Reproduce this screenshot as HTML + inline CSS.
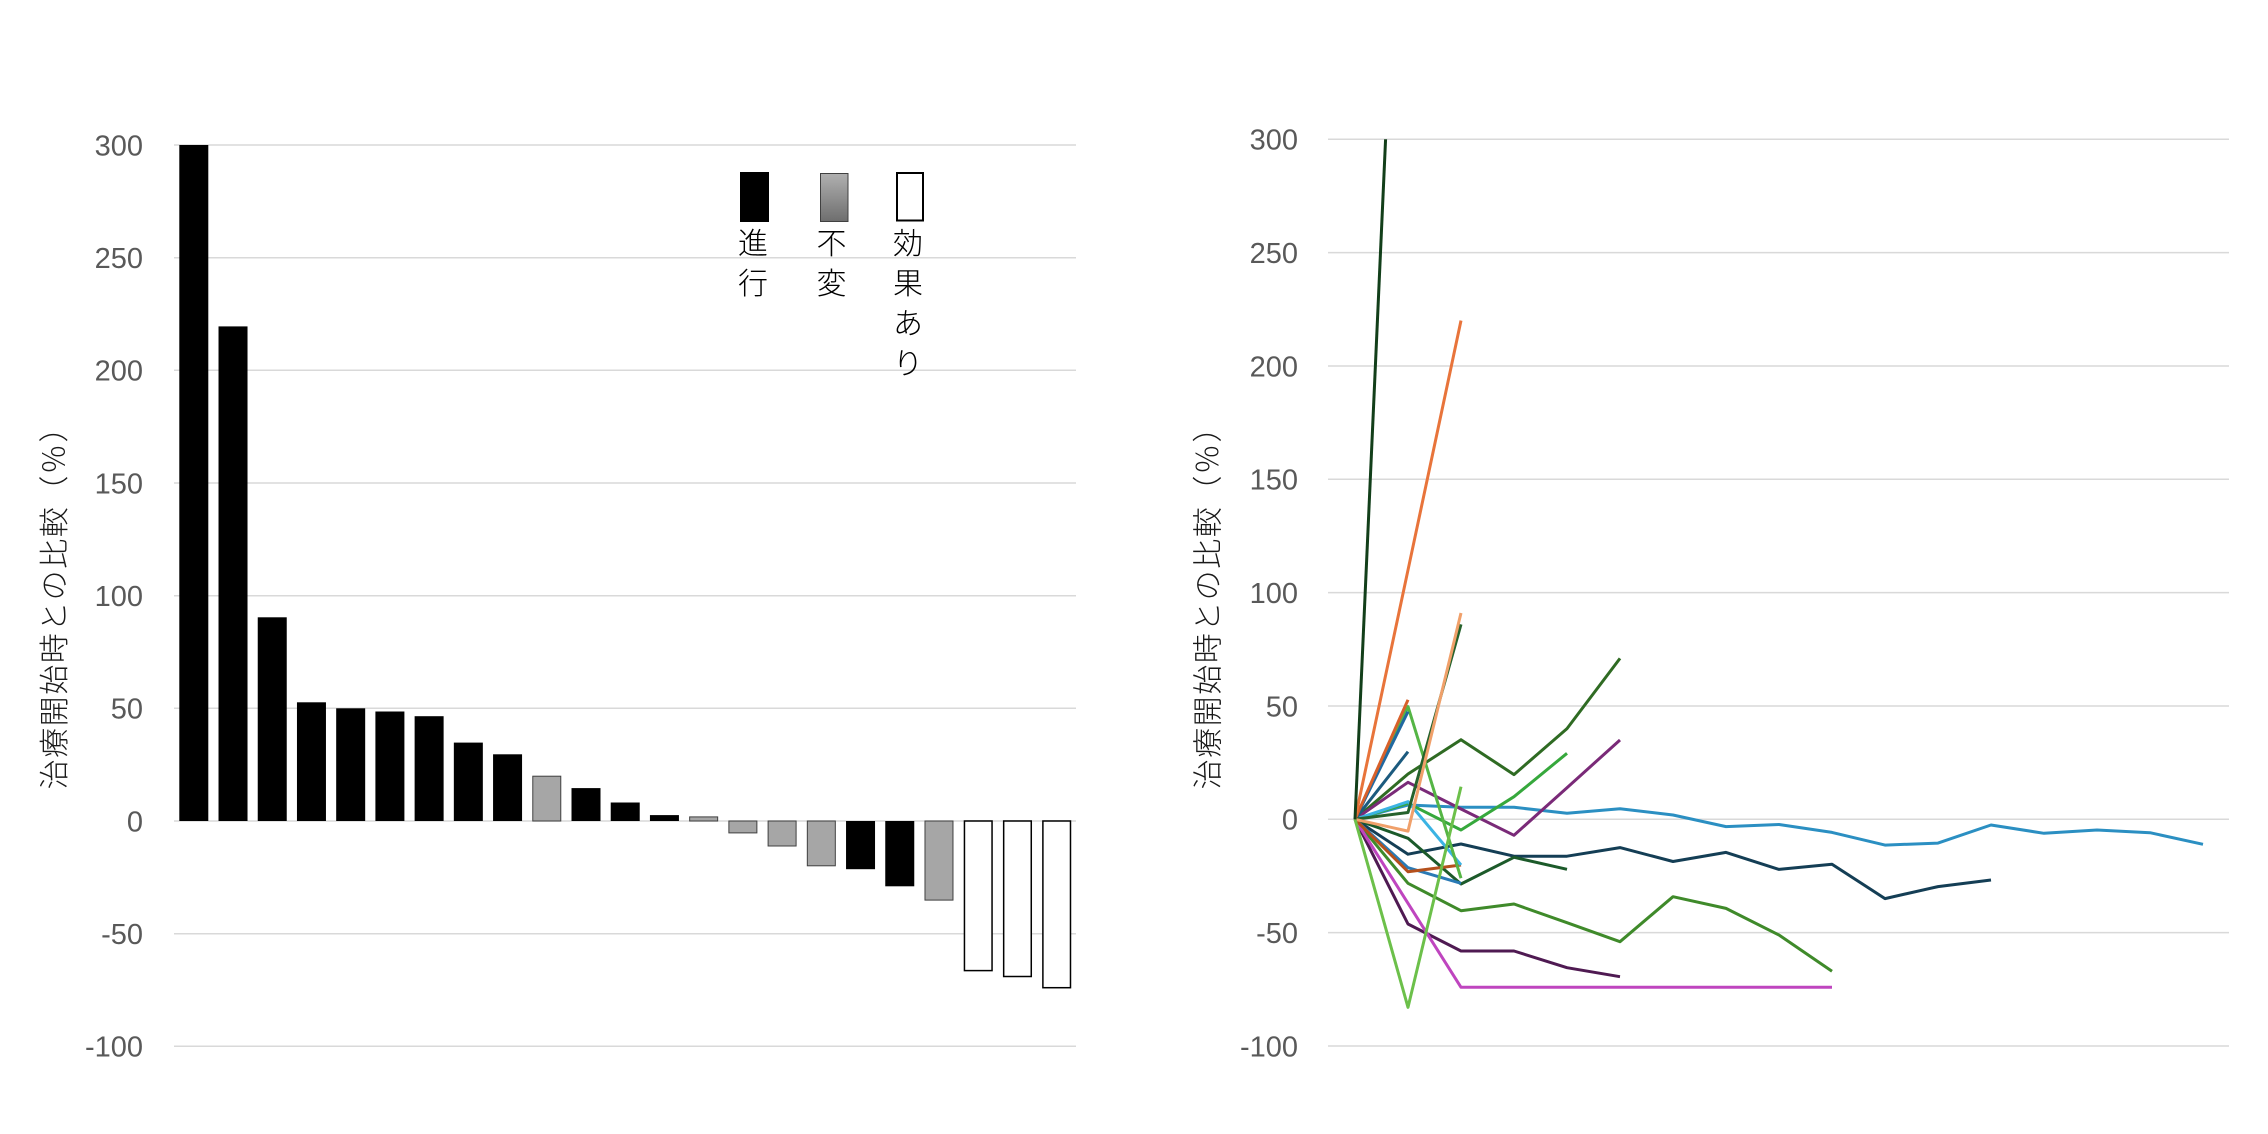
<!DOCTYPE html>
<html>
<head>
<meta charset="utf-8">
<style>
html,body{margin:0;padding:0;background:#fff;}
svg{display:block;}
.tick{font-family:"Liberation Sans",Arial,sans-serif;font-size:29px;fill:#595959;}
.jp{font-family:"Liberation Sans","Noto Sans CJK JP",sans-serif;font-weight:300;font-size:30px;fill:#1a1a1a;}
.grid{stroke:#d9d9d9;stroke-width:1.5;}
.ln{fill:none;stroke-width:3;stroke-linejoin:round;stroke-linecap:butt;}
</style>
</head>
<body>
<svg width="2268" height="1134" viewBox="0 0 2268 1134" xmlns="http://www.w3.org/2000/svg">
<defs>
<linearGradient id="gg" x1="0" y1="0" x2="0" y2="1">
<stop offset="0" stop-color="#b0b0b0"/>
<stop offset="1" stop-color="#6e6e6e"/>
</linearGradient>
<clipPath id="rc"><rect x="1328" y="139.3" width="902" height="910"/></clipPath>
</defs>

<!-- LEFT CHART -->
<g class="grid">
<line x1="174" x2="1076" y1="145" y2="145"/>
<line x1="174" x2="1076" y1="257.7" y2="257.7"/>
<line x1="174" x2="1076" y1="370.3" y2="370.3"/>
<line x1="174" x2="1076" y1="483" y2="483"/>
<line x1="174" x2="1076" y1="595.7" y2="595.7"/>
<line x1="174" x2="1076" y1="708.3" y2="708.3"/>
<line x1="174" x2="1076" y1="821" y2="821"/>
<line x1="174" x2="1076" y1="933.7" y2="933.7"/>
<line x1="174" x2="1076" y1="1046.3" y2="1046.3"/>
</g>
<g class="tick" text-anchor="end">
<text x="143" y="155.4">300</text>
<text x="143" y="268.1">250</text>
<text x="143" y="380.7">200</text>
<text x="143" y="493.4">150</text>
<text x="143" y="606.1">100</text>
<text x="143" y="718.7">50</text>
<text x="143" y="831.4">0</text>
<text x="143" y="944.1">-50</text>
<text x="143" y="1056.7">-100</text>
</g>
<text class="jp" transform="translate(65,601) rotate(-90)" text-anchor="middle" textLength="377" lengthAdjust="spacing">治療開始時との比較（％）</text>

<!-- bars -->
<g fill="#000">
<rect x="179.3" y="145" width="29" height="676"/>
<rect x="218.52" y="326.4" width="29" height="494.6"/>
<rect x="257.74" y="617.3" width="29" height="203.7"/>
<rect x="296.96" y="702.3" width="29" height="118.7"/>
<rect x="336.18" y="708.3" width="29" height="112.7"/>
<rect x="375.4" y="711.5" width="29" height="109.5"/>
<rect x="414.62" y="716.2" width="29" height="104.8"/>
<rect x="453.84" y="742.6" width="29" height="78.4"/>
<rect x="493.06" y="754.3" width="29" height="66.7"/>
<rect x="571.5" y="788.1" width="29" height="32.9"/>
<rect x="610.72" y="802.5" width="29" height="18.5"/>
<rect x="649.94" y="815.1" width="29" height="5.9"/>
<rect x="846.04" y="821" width="29" height="48.2"/>
<rect x="885.26" y="821" width="29" height="65.3"/>
</g>
<g fill="#a6a6a6" stroke="#404040" stroke-width="1">
<rect x="532.78" y="776.2" width="28" height="44.8"/>
<rect x="689.66" y="816.9" width="28" height="4.1"/>
<rect x="728.88" y="821" width="28" height="11.9"/>
<rect x="768.1" y="821" width="28" height="25"/>
<rect x="807.32" y="821" width="28" height="44.8"/>
<rect x="924.98" y="821" width="28" height="79.1"/>
</g>
<g fill="#fff" stroke="#000" stroke-width="1.5">
<rect x="964.45" y="821" width="27.6" height="149.6"/>
<rect x="1003.67" y="821" width="27.6" height="155.5"/>
<rect x="1042.89" y="821" width="27.6" height="166.7"/>
</g>

<!-- legend -->
<rect x="740" y="172" width="29" height="50" fill="#000"/>
<rect x="820.5" y="173.5" width="27.5" height="48" fill="url(#gg)" stroke="#404040" stroke-width="1"/>
<rect x="897" y="173" width="26" height="47.5" fill="#fff" stroke="#000" stroke-width="2"/>
<g class="jp" text-anchor="middle" style="fill:#000">
<text x="753" y="254">進</text>
<text x="753" y="294">行</text>
<text x="831.5" y="254">不</text>
<text x="831.5" y="294">変</text>
<text x="908" y="254">効</text>
<text x="908" y="294">果</text>
<text x="908" y="334">あ</text>
<text x="908" y="374">り</text>
</g>

<!-- RIGHT CHART -->
<g class="grid">
<line x1="1328" x2="2229" y1="139.3" y2="139.3"/>
<line x1="1328" x2="2229" y1="252.6" y2="252.6"/>
<line x1="1328" x2="2229" y1="366" y2="366"/>
<line x1="1328" x2="2229" y1="479.3" y2="479.3"/>
<line x1="1328" x2="2229" y1="592.6" y2="592.6"/>
<line x1="1328" x2="2229" y1="706" y2="706"/>
<line x1="1328" x2="2229" y1="819.3" y2="819.3"/>
<line x1="1328" x2="2229" y1="932.6" y2="932.6"/>
<line x1="1328" x2="2229" y1="1046" y2="1046"/>
</g>
<g class="tick" text-anchor="end">
<text x="1298" y="149.7">300</text>
<text x="1298" y="263">250</text>
<text x="1298" y="376.4">200</text>
<text x="1298" y="489.7">150</text>
<text x="1298" y="603">100</text>
<text x="1298" y="716.4">50</text>
<text x="1298" y="829.7">0</text>
<text x="1298" y="943">-50</text>
<text x="1298" y="1056.4">-100</text>
</g>
<text class="jp" transform="translate(1218.5,601) rotate(-90)" text-anchor="middle" textLength="377" lengthAdjust="spacing">治療開始時との比較（％）</text>

<g clip-path="url(#rc)">
<!-- long teal -->
<polyline class="ln" stroke="#2b8fc2" points="1355,819.3 1408,805 1461,807.3 1514,807.3 1567,813.3 1620,808.7 1673,815 1726,826.6 1779,824.5 1832,832.4 1885,845.1 1938,843.1 1991,825 2044,833.3 2097,830 2150,832.7 2203,844.3"/>
<!-- navy -->
<polyline class="ln" stroke="#143e55" points="1355,819.3 1408,854.2 1461,844 1514,856.2 1567,856.2 1620,847.6 1673,861.5 1726,852.4 1779,869.4 1832,864.2 1885,898.6 1938,886.6 1991,880"/>
<!-- green P -->
<polyline class="ln" stroke="#3f8a2a" points="1355,819.3 1408,883.3 1461,910.7 1514,904 1567,922.7 1620,941.7 1673,896.7 1726,908.4 1779,935 1832,971.2"/>
<!-- dark purple -->
<polyline class="ln" stroke="#4f1a52" points="1355,819.3 1408,924 1461,951 1514,951 1567,967.7 1620,976.7"/>
<!-- magenta -->
<polyline class="ln" stroke="#bf45bf" points="1355,819.3 1408,903.3 1461,987.3 1514,987.3 1567,987.3 1620,987.3 1673,987.3 1726,987.3 1779,987.3 1832,987.3"/>
<!-- dark green I -->
<polyline class="ln" stroke="#2f6b23" points="1355,819.3 1408,774 1461,739.7 1514,774.6 1567,728.6 1620,658.4"/>
<!-- purple -->
<polyline class="ln" stroke="#7a2a78" points="1355,819.3 1408,782.3 1461,809 1514,835.3 1567,787.7 1620,740"/>
<!-- bright green -->
<polyline class="ln" stroke="#36a83c" points="1355,819.3 1408,803.3 1461,830 1514,796.7 1567,753.3"/>
<!-- dark green O -->
<polyline class="ln" stroke="#1c5a2a" points="1355,819.3 1408,838.3 1461,884 1514,857.3 1567,869.3"/>
<!-- short ones -->
<polyline class="ln" stroke="#2a7ab5" points="1355,819.3 1408,867.7 1461,883.3"/>
<polyline class="ln" stroke="#b4501c" points="1355,819.3 1408,871.7 1461,865"/>
<polyline class="ln" stroke="#3bb3e3" points="1355,819.3 1408,801.7 1461,865"/>
<polyline class="ln" stroke="#55b545" points="1355,819.3 1408,706.6 1461,878.2"/>
<polyline class="ln" stroke="#2168a0" points="1355,819.3 1408,711.6"/>
<polyline class="ln" stroke="#1b5a7e" points="1355,819.3 1408,751.7"/>
<polyline class="ln" stroke="#d8602a" points="1355,819.3 1408,699.8"/>
<polyline class="ln" stroke="#26622c" points="1355,819.3 1408,812.5 1461,624.4"/>
<polyline class="ln" stroke="#f0a06a" points="1355,819.3 1408,831.1 1461,613"/>
<polyline class="ln" stroke="#e8743b" points="1355,819.3 1408,570 1461,320.6"/>
<polyline class="ln" stroke="#6cc04a" points="1355,819.3 1408,1007.3 1461,786.7"/>
<polyline class="ln" stroke="#123f1a" points="1355,819.3 1408,-359.4"/>
</g>
</svg>
</body>
</html>
